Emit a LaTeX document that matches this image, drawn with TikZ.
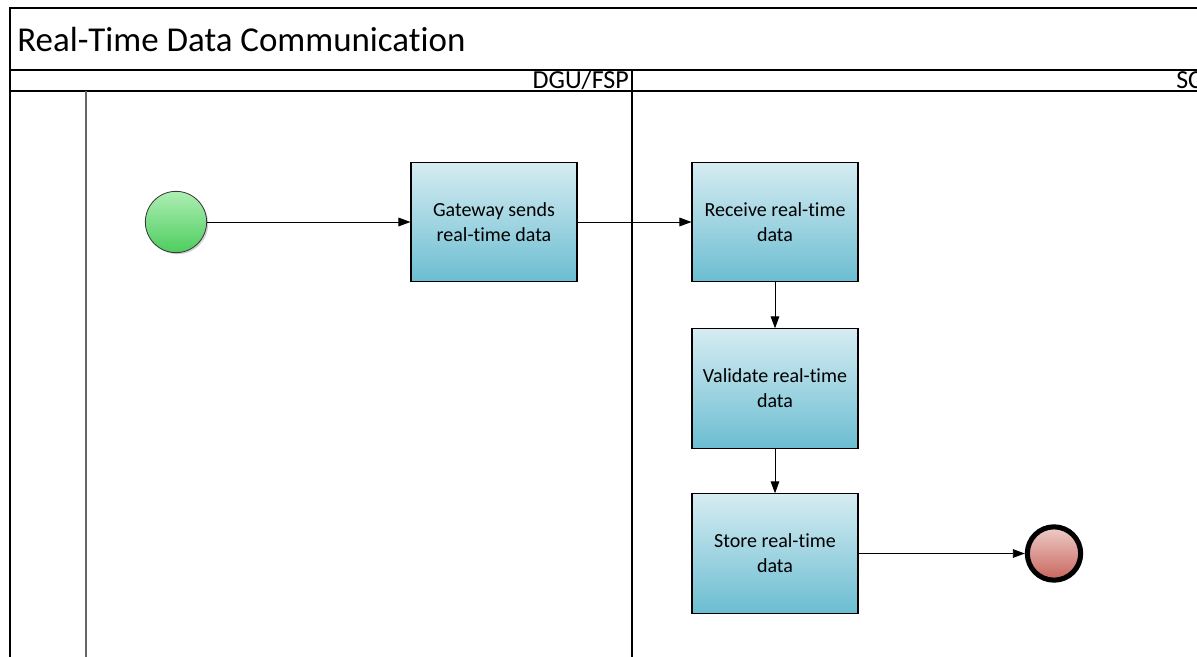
\documentclass[tikz,border=0pt]{standalone}
\usepackage{fontspec}
\setmainfont{Carlito}[Ligatures=NoCommon]
\usetikzlibrary{arrows.meta,shadows}
\begin{document}
\begin{tikzpicture}[x=0.75pt,y=-0.75pt,
  task/.style={draw=black, line width=0.8pt, minimum width=124.5pt, minimum height=89.5pt,
    top color=taskTop, bottom color=taskBot, align=center, font=\fontsize{15}{18.7}\selectfont, inner sep=0pt},
  startev/.style={circle, draw=black!80, line width=0.6pt, minimum size=46pt, inner sep=0pt,
    top color=startTop, bottom color=startBot, drop shadow={shadow xshift=1.2pt, shadow yshift=-1.2pt, opacity=0.35}},
  endev/.style={circle, draw=black, line width=3.8pt, minimum size=40pt, inner sep=0pt,
    top color=endTop, bottom color=endBot, drop shadow={shadow xshift=1.5pt, shadow yshift=-1.5pt, opacity=0.35}},
  flow/.style={line width=0.7pt, -{Triangle[length=9pt, width=6.5pt]}},
  lane/.style={line width=0.8pt, black},
]
\definecolor{taskTop}{HTML}{D6ECF2}
\definecolor{taskBot}{HTML}{6BBDD1}
\definecolor{startTop}{HTML}{AEEEB4}
\definecolor{startBot}{HTML}{4DCD5E}
\definecolor{endTop}{HTML}{EECDC9}
\definecolor{endBot}{HTML}{C8645C}
\useasboundingbox (0,0) rectangle (1197,657);
\clip (0,0) rectangle (1197,657);
\fill[white] (0,0) rectangle (1197,657);
% pool frame
\draw[lane] (10,660) -- (10,8) -- (1205,8);
\draw[lane] (10,70) -- (1205,70);
\draw[lane] (10,91) -- (1205,91);
\draw[line width=0.8pt, black!60] (86,91) -- (86,660);
\draw[lane] (632,70) -- (632,660);
% texts
\node[anchor=west, inner sep=0pt, font=\fontsize{26.2}{30}\selectfont] (title) at (17,39) {Real-Time Data Communication};
\node[anchor=east, inner sep=0pt, font=\fontsize{19.5}{22}\selectfont] (dgu) at (629,80) {DGU/FSP};
\node[anchor=west, inner sep=0pt, font=\fontsize{19.5}{22}\selectfont] (sc) at (1176,80) {SC};
% events and tasks
\node[startev] (start) at (176,222) {};
\node[task] (gw) at (494,222) {Gateway sends\\real-time data};
\node[task] (recv) at (775,222) {Receive real-time\\data};
\node[task] (val) at (775,388.5) {Validate real-time\\data};
\node[task] (store) at (775,553.5) {Store real-time\\data};
\node[endev] (end) at (1054,553.5) {};
% flows
\draw[flow] (start) -- (gw);
\draw[flow] (gw) -- (recv);
\draw[flow] (recv) -- (val);
\draw[flow] (val) -- (store);
\draw[flow] (store) -- (end);
\end{tikzpicture}
\end{document}
